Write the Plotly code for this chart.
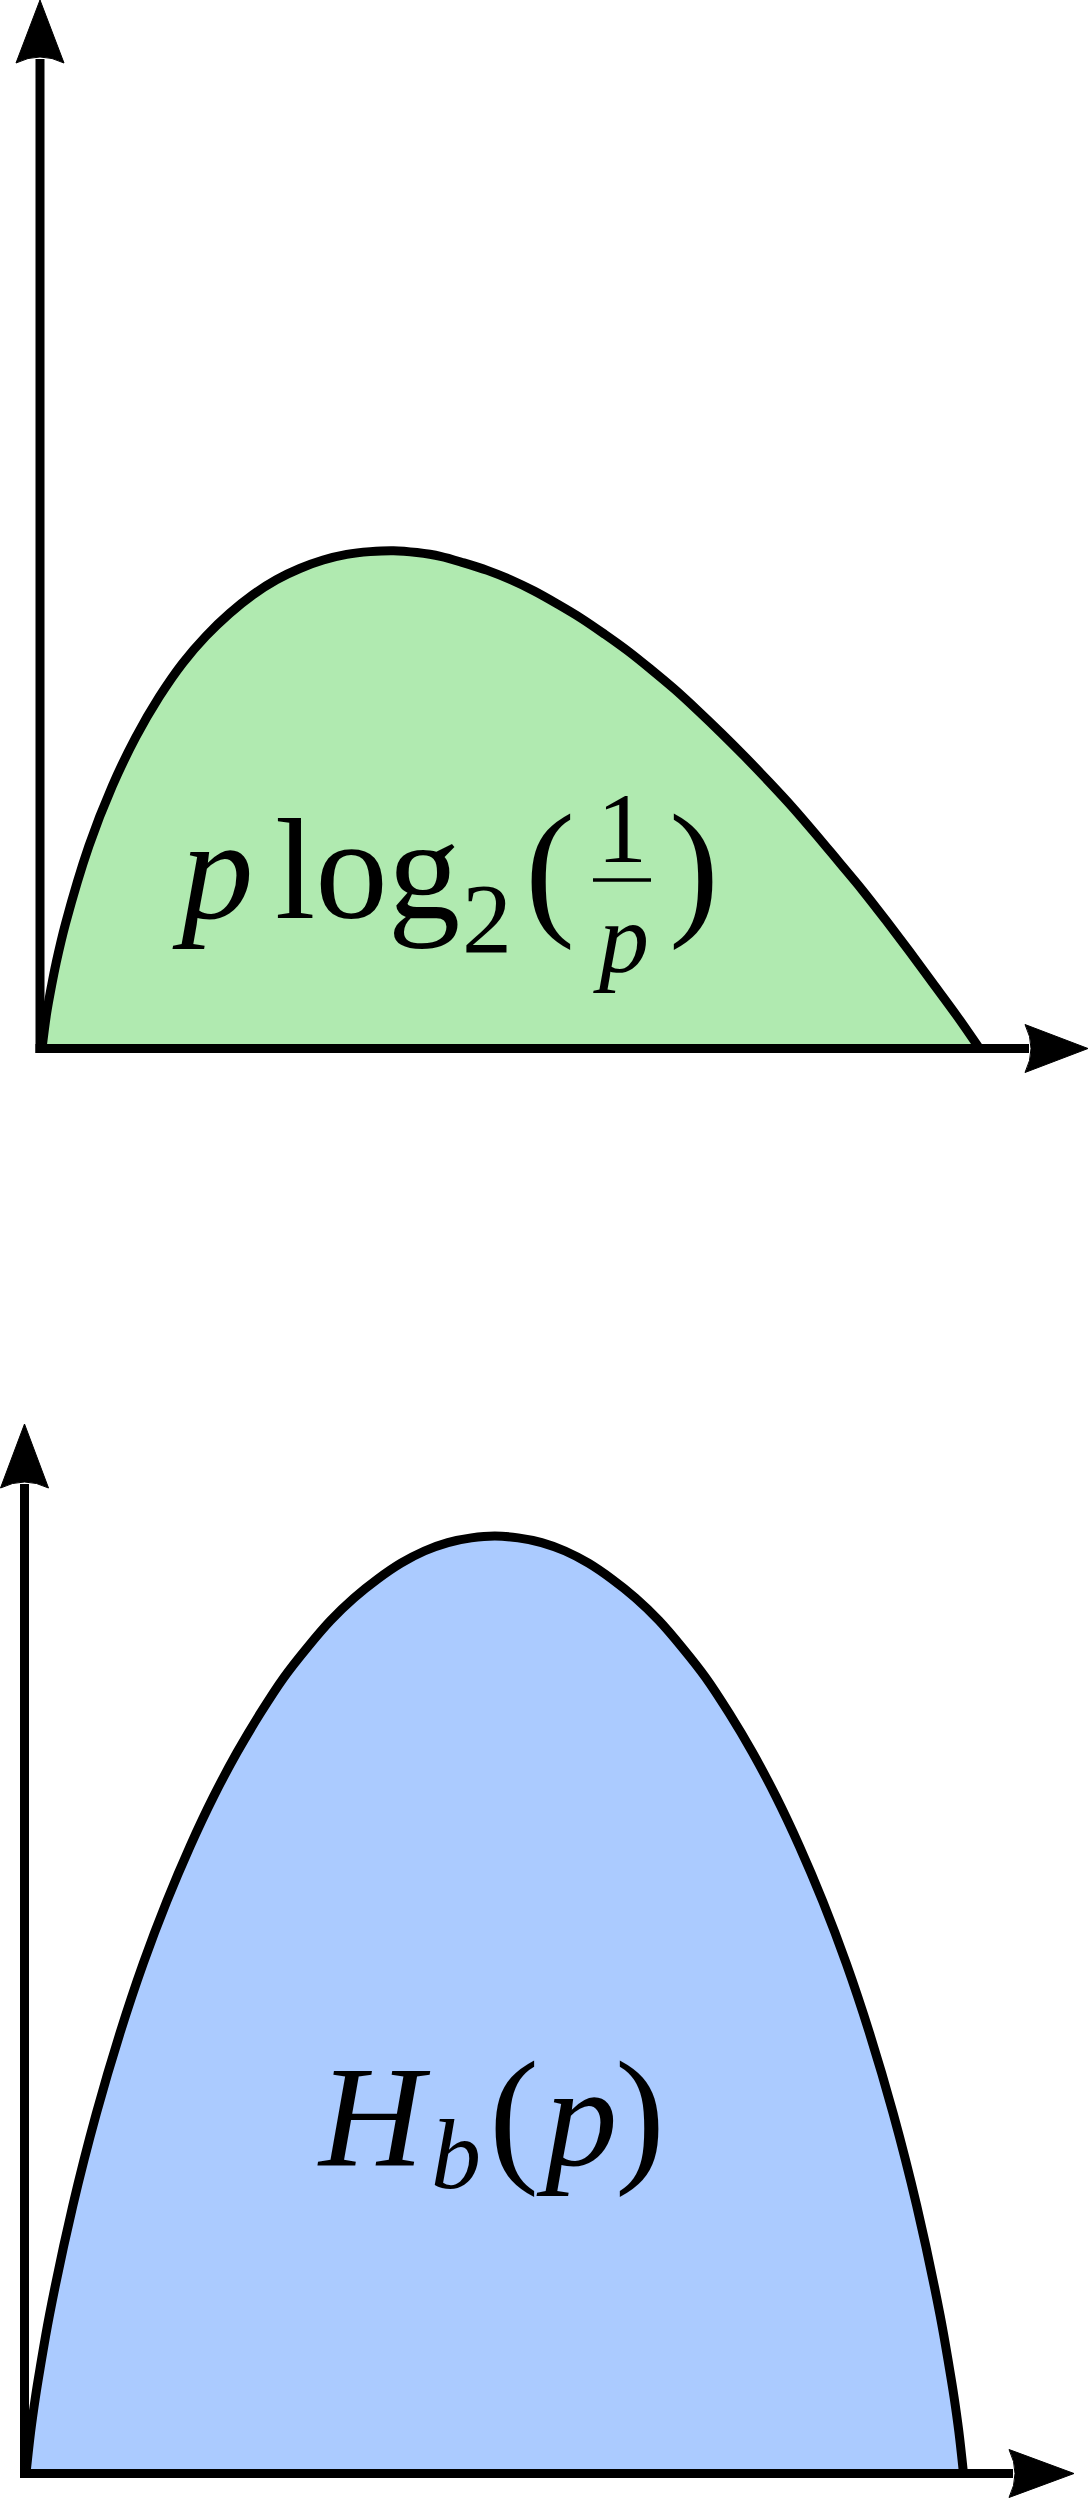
import plotly.graph_objects as go

# probability p on the horizontal axis
p_top = [0, 0.005, 0.01, 0.015, 0.025, 0.05, 0.075, 0.1, 0.125, 0.15, 0.175, 0.2, 0.225, 0.25,
         0.275, 0.3, 0.325, 0.35, 0.375, 0.4, 0.425, 0.45, 0.475, 0.5, 0.525, 0.55, 0.575, 0.6,
         0.625, 0.65, 0.675, 0.7, 0.725, 0.75, 0.775, 0.8, 0.825, 0.85, 0.875, 0.9, 0.925, 0.95,
         0.975, 1.0]
# height of the green curve, p log2(1/p)
plog_vals = [0, 0.038, 0.066, 0.091, 0.133, 0.216, 0.280, 0.332, 0.375, 0.411, 0.440, 0.464, 0.484, 0.500,
             0.512, 0.521, 0.527, 0.530, 0.531, 0.529, 0.525, 0.518, 0.510, 0.500, 0.488, 0.474, 0.459, 0.442,
             0.424, 0.404, 0.383, 0.360, 0.336, 0.311, 0.285, 0.258, 0.229, 0.199, 0.169, 0.137, 0.104, 0.070,
             0.036, 0]

p_bot = [0, 0.005, 0.01, 0.015, 0.025, 0.05, 0.075, 0.1, 0.125, 0.15, 0.175, 0.2, 0.225, 0.25,
         0.275, 0.3, 0.325, 0.35, 0.375, 0.4, 0.425, 0.45, 0.475, 0.5, 0.525, 0.55, 0.575, 0.6,
         0.625, 0.65, 0.675, 0.7, 0.725, 0.75, 0.775, 0.8, 0.825, 0.85, 0.875, 0.9, 0.925, 0.95,
         0.975, 0.985, 0.99, 0.995, 1.0]
# height of the blue curve, binary entropy H_b(p)
hb_vals = [0, 0.045, 0.081, 0.112, 0.169, 0.286, 0.384, 0.469, 0.544, 0.610, 0.669, 0.722, 0.769, 0.811,
           0.849, 0.881, 0.910, 0.934, 0.954, 0.971, 0.984, 0.993, 0.998, 1.0, 0.998, 0.993, 0.984, 0.971,
           0.954, 0.934, 0.910, 0.881, 0.849, 0.811, 0.769, 0.722, 0.669, 0.610, 0.544, 0.469, 0.384, 0.286,
           0.169, 0.112, 0.081, 0.045, 0]

W, H = 1089, 2498
UNIT = 937.5  # pixels per unit on both axes
SERIF = "Liberation Serif"
LW = 9


class Panel:
    # maps page pixels to the data coordinates of one subplot
    def __init__(self, ox, oy, top, bottom, xref, yref):
        self.ox, self.oy, self.top, self.bottom = ox, oy, top, bottom
        self.xref, self.yref = xref, yref

    def x(self, px):
        return (px - self.ox) / UNIT

    def y(self, py):
        return (self.oy - py) / UNIT


top = Panel(42, 1048.5, 0, 1200, "x", "y")
bot = Panel(26, 2473.5, 1250, 2498, "x2", "y2")

fig = go.Figure()

fig.add_trace(go.Scatter(
    x=p_top, y=plog_vals, xaxis="x", yaxis="y",
    mode="lines", line=dict(color="black", width=LW, shape="spline", smoothing=1.0),
    fill="tozeroy", fillcolor="rgb(176,234,176)", hoverinfo="skip", showlegend=False
))
fig.add_trace(go.Scatter(
    x=p_bot, y=hb_vals, xaxis="x2", yaxis="y2",
    mode="lines", line=dict(color="black", width=LW, shape="spline", smoothing=1.0),
    fill="tozeroy", fillcolor="rgb(171,203,255)", hoverinfo="skip", showlegend=False
))

shapes = []
annotations = []


def axes_with_arrows(pn, ax_x, v_tip, v_back, h_tip, h_back):
    # vertical axis
    shapes.append(dict(type="line", xref=pn.xref, yref=pn.yref,
                       x0=pn.x(ax_x), x1=pn.x(ax_x), y0=pn.y(pn.oy + 4.5), y1=pn.y(v_back - 4),
                       line=dict(color="black", width=LW)))
    # horizontal axis
    shapes.append(dict(type="line", xref=pn.xref, yref=pn.yref,
                       x0=pn.x(ax_x - 4.5), x1=pn.x(h_back + 4), y0=0, y1=0,
                       line=dict(color="black", width=LW)))
    hw = 24
    path_v = (f"M {pn.x(ax_x)},{pn.y(v_tip)} L {pn.x(ax_x + hw)},{pn.y(v_back)} "
              f"Q {pn.x(ax_x)},{pn.y(v_back - 12)} {pn.x(ax_x - hw)},{pn.y(v_back)} Z")
    path_h = (f"M {pn.x(h_tip)},{pn.y(pn.oy)} L {pn.x(h_back)},{pn.y(pn.oy - hw)} "
              f"Q {pn.x(h_back + 12)},{pn.y(pn.oy)} {pn.x(h_back)},{pn.y(pn.oy + hw)} Z")
    for pth in (path_v, path_h):
        shapes.append(dict(type="path", xref=pn.xref, yref=pn.yref, path=pth,
                           fillcolor="black", line=dict(color="black", width=1)))


def label(pn, text, cx, baseline, size):
    cy = baseline - 0.3375 * size
    annotations.append(dict(text=text, xref=pn.xref, yref=pn.yref, x=pn.x(cx), y=pn.y(cy),
                            xanchor="center", yanchor="middle", showarrow=False, borderpad=0,
                            font=dict(family=SERIF, size=size, color="black")))


axes_with_arrows(top, 40, 0, 63, 1088, 1025)
axes_with_arrows(bot, 24.5, 1424, 1488, 1074, 1009)

# p log2(1/p)
label(top, "<i>p</i>", 213, 918, 145)
label(top, "log", 367, 918, 145)
label(top, "2", 487, 952, 100)
label(top, "(", 550, 918, 150)
label(top, "1", 622, 862, 100)
label(top, "<i>p</i>", 621, 972, 100)
label(top, ")", 694, 918, 150)
shapes.append(dict(type="line", xref="x", yref="y", x0=top.x(593), x1=top.x(651),
                   y0=top.y(880), y1=top.y(880), line=dict(color="black", width=3.5)))

# H_b(p)
label(bot, "<i>H</i>", 374, 2165, 145)
label(bot, "<i>b</i>", 456, 2188, 100)
label(bot, "(", 514, 2165, 150)
label(bot, "<i>p</i>", 577, 2165, 145)
label(bot, ")", 640, 2165, 150)


def axis_pair(pn):
    xa = dict(range=[pn.x(0), pn.x(W)], visible=False, fixedrange=True)
    ya = dict(range=[pn.y(pn.bottom), pn.y(pn.top)], visible=False, fixedrange=True,
              domain=[1 - pn.bottom / H, 1 - pn.top / H])
    return xa, ya


xa1, ya1 = axis_pair(top)
xa2, ya2 = axis_pair(bot)
ya2["anchor"] = "x2"
xa2["anchor"] = "y2"

fig.update_layout(
    width=W, height=H,
    margin=dict(l=0, r=0, t=0, b=0),
    paper_bgcolor="white", plot_bgcolor="white",
    xaxis=xa1, yaxis=ya1, xaxis2=xa2, yaxis2=ya2,
    shapes=shapes, annotations=annotations,
    showlegend=False
)

fig.write_html("out.html", config={"displayModeBar": False},
               post_script="document.body.style.margin='0px';")
